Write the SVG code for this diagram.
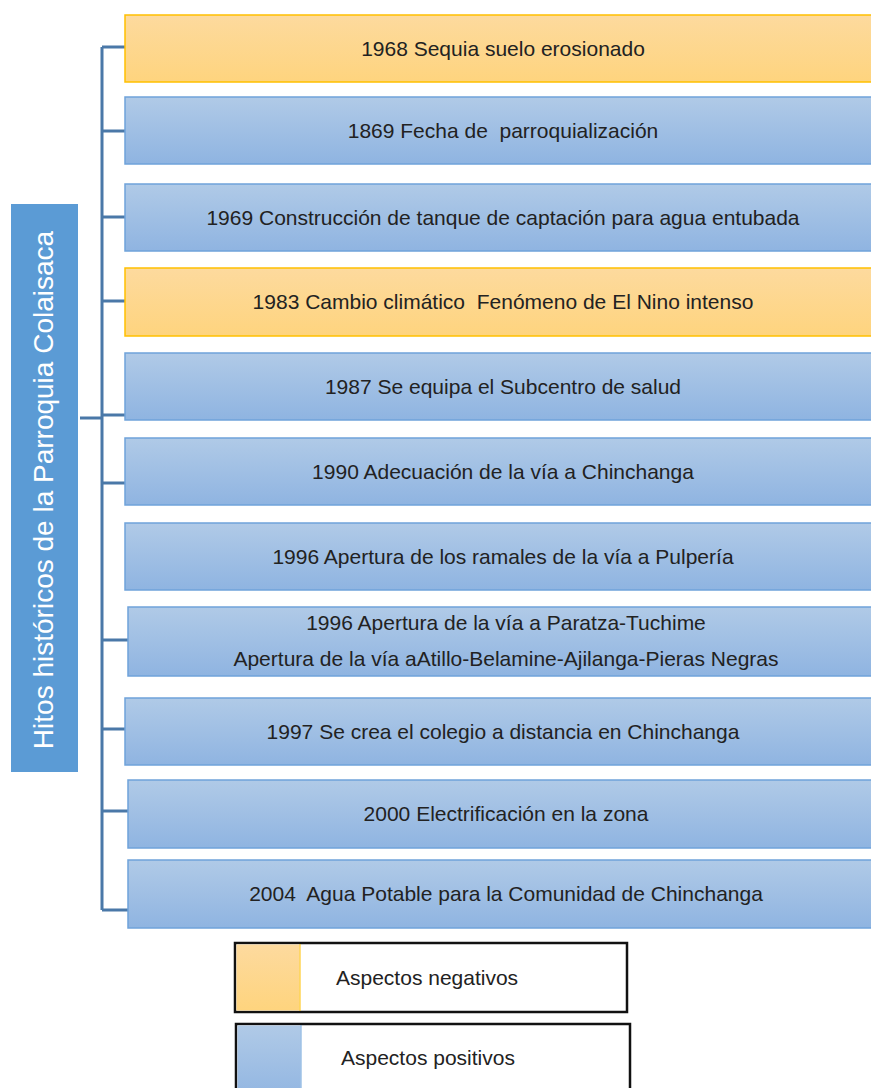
<svg xmlns="http://www.w3.org/2000/svg" width="871" height="1088" viewBox="0 0 871 1088">
<defs>
<linearGradient id="gb" x1="0" y1="0" x2="0" y2="1"><stop offset="0" stop-color="#b0cae7"/><stop offset="1" stop-color="#8fb4e1"/></linearGradient>
<linearGradient id="go" x1="0" y1="0" x2="0" y2="1"><stop offset="0" stop-color="#fdda9e"/><stop offset="1" stop-color="#fed47e"/></linearGradient>
<style>
.b{fill:url(#gb);stroke:#6fa3da;stroke-width:1.5}
.o{fill:url(#go);stroke:#ffc000;stroke-width:1.5}
.t{font-family:"Liberation Sans",Arial,sans-serif;font-size:21px;fill:#222;text-anchor:middle;white-space:pre}
.c{stroke:#4a78a8;stroke-width:3;fill:none}
.lg{fill:#fff;stroke:#111;stroke-width:2.5}
.l{font-family:"Liberation Sans",Arial,sans-serif;font-size:21px;fill:#222}
</style>
</defs>
<g id="connectors">
<path class="c" d="M102 47V910M102 47H125M102 131H125M102 217H125M102 301H125M102 415H125M80 418H102M102 483H125M102 640H128M102 729H125M102 811H128M102 910H128"/>
</g>
<g id="root">
<rect x="11" y="204" width="67" height="568" fill="#5b9bd5"/>
<text transform="translate(53 490) rotate(-90)" font-family="Liberation Sans,Arial,sans-serif" font-size="28" fill="#fff" text-anchor="middle">Hitos históricos de la Parroquia Colaisaca</text>
</g>
<g id="n1"><rect class="o" x="125" y="15" width="760" height="67"/><text class="t" x="503" y="56">1968 Sequia suelo erosionado</text></g>
<g id="n2"><rect class="b" x="125" y="97" width="760" height="67"/><text class="t" x="503" y="138" xml:space="preserve">1869 Fecha de  parroquialización</text></g>
<g id="n3"><rect class="b" x="125" y="184" width="760" height="67"/><text class="t" x="503" y="225">1969 Construcción de tanque de captación para agua entubada</text></g>
<g id="n4"><rect class="o" x="125" y="268" width="760" height="68"/><text class="t" x="503" y="309" xml:space="preserve">1983 Cambio climático  Fenómeno de El Nino intenso</text></g>
<g id="n5"><rect class="b" x="125" y="353" width="760" height="67"/><text class="t" x="503" y="394">1987 Se equipa el Subcentro de salud</text></g>
<g id="n6"><rect class="b" x="125" y="438" width="760" height="67"/><text class="t" x="503" y="479">1990 Adecuación de la vía a Chinchanga</text></g>
<g id="n7"><rect class="b" x="125" y="523" width="760" height="67"/><text class="t" x="503" y="564">1996 Apertura de los ramales de la vía a Pulpería</text></g>
<g id="n8"><rect class="b" x="128" y="607" width="760" height="69"/><text class="t" x="506" y="630">1996 Apertura de la vía a Paratza-Tuchime</text><text class="t" x="506" y="666">Apertura de la vía aAtillo-Belamine-Ajilanga-Pieras Negras</text></g>
<g id="n9"><rect class="b" x="125" y="698" width="760" height="67"/><text class="t" x="503" y="739">1997 Se crea el colegio a distancia en Chinchanga</text></g>
<g id="n10"><rect class="b" x="128" y="780" width="760" height="68"/><text class="t" x="506" y="821">2000 Electrificación en la zona</text></g>
<g id="n11"><rect class="b" x="128" y="860" width="760" height="68"/><text class="t" x="506" y="901" xml:space="preserve">2004  Agua Potable para la Comunidad de Chinchanga</text></g>
<g id="legend-neg"><rect class="lg" x="235" y="943" width="392" height="69"/><rect x="236.5" y="944.5" width="63" height="66" fill="url(#go)"/><line x1="300" y1="944" x2="300" y2="1011" stroke="#ffc000" stroke-width="1"/><text class="l" x="336" y="985">Aspectos negativos</text></g>
<g id="legend-pos"><rect class="lg" x="236" y="1024" width="394" height="80"/><rect x="237.5" y="1025.5" width="63" height="78" fill="url(#gb)"/><line x1="301" y1="1025" x2="301" y2="1088" stroke="#6fa3da" stroke-width="1"/><text class="l" x="341" y="1065">Aspectos positivos</text></g>
</svg>
